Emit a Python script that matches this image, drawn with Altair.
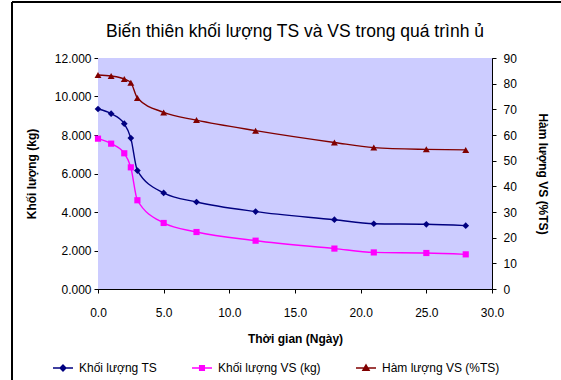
import altair as alt
import pandas as pd

days = [0, 1, 2, 2.5, 3, 5, 7.5, 12, 18, 21, 25, 28]
ts_mass = [9.35, 9.11, 8.59, 7.84, 6.15, 4.99, 4.52, 4.02, 3.60, 3.39, 3.36, 3.29]
vs_mass = [7.81, 7.55, 7.05, 6.32, 4.61, 3.43, 2.96, 2.51, 2.10, 1.90, 1.87, 1.80]
vs_pct = [83.4, 83.0, 81.8, 80.4, 74.4, 68.8, 65.8, 61.7, 57.1, 55.1, 54.4, 54.2]

series_names = ["Khối lượng TS", "Khối lượng VS (kg)", "Hàm lượng VS (%TS)"]
series_colors = ["#000080", "#FF00FF", "#800000"]
x_ticks = [0, 5, 10, 15, 20, 25, 30]
left_ticks = [0, 2, 4, 6, 8, 10, 12]
right_ticks = [0, 10, 20, 30, 40, 50, 60, 70, 80, 90]

df = pd.DataFrame({"day": days, "ts": ts_mass, "vs": vs_mass, "pct": vs_pct})

FONT = "Liberation Sans"
W, H = 394, 231

x_scale = alt.Scale(domain=[0, 30], nice=False)
x_axis = alt.Axis(values=x_ticks, format=".1f", title="Thời gian (Ngày)", grid=False,
                  tickSize=4, labelPadding=14, titlePadding=15, labelOverlap=False,
                  labelFlush=False)
left_scale = alt.Scale(domain=[0, 12], nice=False)
left_axis = alt.Axis(values=left_ticks, format=".3f", title="Khối lượng (kg)",
                     grid=True, gridColor="#404040", gridWidth=1, tickSize=4,
                     labelPadding=3, titlePadding=16, labelOverlap=False, labelFlush=False)
right_scale = alt.Scale(domain=[0, 90], nice=False)
right_axis = alt.Axis(values=right_ticks, orient="right", title="Hàm lượng VS (%TS)",
                      grid=False, tickSize=4, labelPadding=7, titlePadding=19,
                      labelOverlap=False, labelFlush=False)

base = alt.Chart(df)

X = alt.X("day:Q", scale=x_scale, axis=x_axis)


def YL(field):
    return alt.Y(field, type="quantitative", scale=left_scale, axis=left_axis)


def YR(field):
    return alt.Y(field, type="quantitative", scale=right_scale, axis=right_axis)


bg = base.mark_rect(fill="#CCCCFF", stroke=None).encode(
    x=alt.value(0), x2=alt.value(W), y=alt.value(0), y2=alt.value(H))

ts_line = base.mark_line(color=series_colors[0], strokeWidth=1.4, interpolate="monotone").encode(
    x=X, y=YL("ts"))
ts_pts = base.mark_point(shape="diamond", filled=True, color=series_colors[0], size=45, opacity=1).encode(
    x=X, y=YL("ts"))
vs_line = base.mark_line(color=series_colors[1], strokeWidth=1.4, interpolate="monotone").encode(
    x=X, y=YL("vs"))
vs_pts = base.mark_point(shape="square", filled=True, color=series_colors[1], size=38, opacity=1).encode(
    x=X, y=YL("vs"))

pct_line = base.mark_line(color=series_colors[2], strokeWidth=1.4, interpolate="monotone").encode(
    x=X, y=YR("pct"))
pct_pts = base.mark_point(shape="triangle-up", filled=True, color=series_colors[2], size=48, opacity=1).encode(
    x=X, y=YR("pct"))

legend_shapes = [
    "M-1,0H1M0,-0.3L0.3,0L0,0.3L-0.3,0Z",
    "M-1,0H1M-0.24,-0.24H0.24V0.24H-0.24Z",
    "M-1,0H1M0,-0.32L0.32,0.24H-0.32Z",
]
leg = alt.Legend(title=None, orient="none", direction="horizontal", legendX=-46, legendY=299,
                 symbolSize=400, symbolStrokeWidth=1.3, labelFont=FONT, labelFontSize=12,
                 labelColor="#000000", labelOffset=5, columnPadding=32, symbolOpacity=1)
legend_layer = base.transform_filter("false").transform_calculate(s="'x'").mark_point(
    filled=True, size=400, strokeWidth=1.3).encode(
    x=X,
    y=YL("ts"),
    fill=alt.Fill("s:N", scale=alt.Scale(domain=series_names, range=series_colors), legend=leg),
    stroke=alt.Stroke("s:N", scale=alt.Scale(domain=series_names, range=series_colors), legend=leg),
    shape=alt.Shape("s:N", scale=alt.Scale(domain=series_names, range=legend_shapes), legend=leg),
)

border_top = base.mark_rule(color="#000000", strokeWidth=1.5).encode(
    x=alt.value(-86), x2=alt.value(470), y=alt.value(-56))
border_left = base.mark_rule(color="#000000", strokeWidth=1.5).encode(
    x=alt.value(-86), y=alt.value(-56), y2=alt.value(330))

left = alt.layer(bg, ts_line, vs_line, ts_pts, vs_pts, legend_layer)
right = alt.layer(pct_line, pct_pts)

chart = alt.layer(left, right, border_top, border_left).resolve_scale(y="independent").properties(
    width=W, height=H,
    background="#FFFFFF",
    title=alt.TitleParams("Biến thiên khối lượng TS và VS trong quá trình ủ", font=FONT,
                          fontSize=17.5, fontWeight="normal", color="#000000", anchor="middle",
                          offset=14, dy=53),
    autosize=alt.AutoSizeParams(type="none"),
    padding={"left": 98, "top": 58, "right": 561 - 98 - W, "bottom": 380 - 58 - H},
).configure_view(stroke=None).configure_axis(
    labelFont=FONT, labelFontSize=12, labelColor="#000000", titleFont=FONT, titleFontSize=12,
    titleFontWeight="bold", titleColor="#000000", domainColor="#000000", tickColor="#000000",
    domainWidth=1, tickWidth=1,
)

chart.save("out.html", embed_options={"renderer": "svg", "actions": False})
